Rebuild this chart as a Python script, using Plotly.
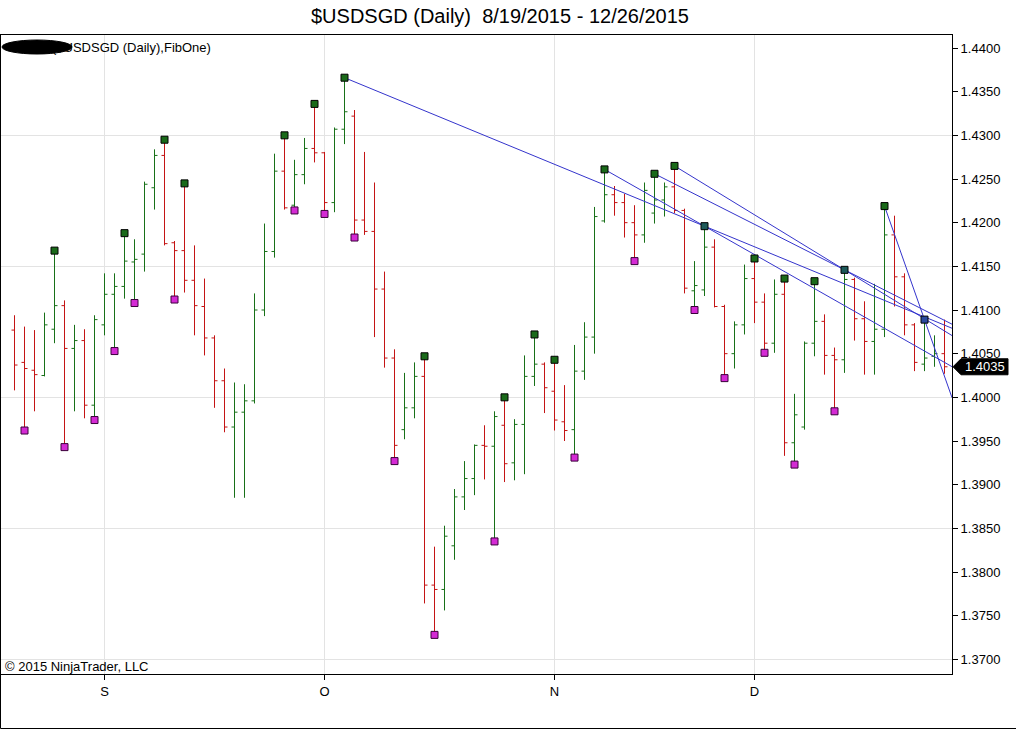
import plotly.graph_objects as go

# ---------------- data ----------------
title_text = "$USDSGD (Daily)\u00a0\u00a08/19/2015 - 12/26/2015"
header_text = "($USDSGD (Daily),FibOne)"
copyright_text = "\u00a9 2015 NinjaTrader, LLC"

month_ticks = [9, 31, 54, 74]
month_labels = ["S", "O", "N", "D"]

opens = [1.4077, 1.4040, 1.4031, 1.4025, 1.4078, 1.4105, 1.4056, 1.4065, 1.3991, 1.4083,
         1.4118, 1.4127, 1.4155, 1.4164, 1.4240, 1.4277, 1.4177, 1.4168, 1.4134, 1.4104,
         1.4068, 1.4019, 1.3966, 1.3983, 1.3996, 1.4100, 1.4167, 1.4259, 1.4220, 1.4255,
         1.4285, 1.4280, 1.4223, 1.4307, 1.4322, 1.4203, 1.4190, 1.4124, 1.4045, 1.3963,
         1.3988, 1.4024, 1.3785, 1.3780, 1.3830, 1.3886, 1.3907, 1.3945, 1.3944, 1.3968,
         1.3925, 1.3969, 1.4024, 1.4038, 1.4007, 1.3972, 1.3963, 1.4030, 1.4069, 1.4202,
         1.4232, 1.4223, 1.4200, 1.4186, 1.4211, 1.4226, 1.4241, 1.4214, 1.4122, 1.4123,
         1.4172, 1.4104, 1.4050, 1.4083, 1.4136, 1.4109, 1.4062, 1.4118, 1.3948, 1.3966,
         1.4062, 1.4087, 1.4048, 1.4043, 1.4135, 1.4090, 1.4064, 1.4078, 1.4186, 1.4138,
         1.4083, 1.4038, 1.4047, 1.4050]
highs = [1.4094, 1.4081, 1.4077, 1.4097, 1.4168, 1.4111, 1.4083, 1.4078, 1.4094, 1.4142,
         1.4142, 1.4188, 1.4181, 1.4247, 1.4284, 1.4295, 1.4179, 1.4245, 1.4174, 1.4136,
         1.4071, 1.4033, 1.4017, 1.4015, 1.4119, 1.4199, 1.4279, 1.4300, 1.4272, 1.4297,
         1.4336, 1.4281, 1.4309, 1.4366, 1.4329, 1.4281, 1.4246, 1.4144, 1.4055, 1.4028,
         1.4040, 1.4047, 1.3829, 1.3853, 1.3895, 1.3927, 1.3946, 1.3968, 1.3984, 1.4000,
         1.3975, 1.4048, 1.4072, 1.4040, 1.4043, 1.4014, 1.4060, 1.4086, 1.4218, 1.4261,
         1.4242, 1.4233, 1.4220, 1.4246, 1.4256, 1.4246, 1.4265, 1.4216, 1.4156, 1.4196,
         1.4181, 1.4106, 1.4087, 1.4152, 1.4159, 1.4119, 1.4135, 1.4136, 1.4004, 1.4064,
         1.4133, 1.4095, 1.4057, 1.4146, 1.4137, 1.4110, 1.4130, 1.4219, 1.4208, 1.4142,
         1.4085, 1.4089, 1.4071, 1.4089]
lows = [1.4008, 1.3962, 1.3984, 1.4024, 1.4062, 1.3943, 1.3984, 1.3976, 1.3974, 1.4071,
        1.4053, 1.4113, 1.4108, 1.4144, 1.4215, 1.4174, 1.4112, 1.4120, 1.4071, 1.4048,
        1.3988, 1.3960, 1.3885, 1.3885, 1.3993, 1.4093, 1.4160, 1.4215, 1.4214, 1.4244,
        1.4269, 1.4210, 1.4212, 1.4290, 1.4183, 1.4186, 1.4069, 1.4034, 1.3927, 1.3952,
        1.3976, 1.3764, 1.3728, 1.3756, 1.3814, 1.3871, 1.3888, 1.3906, 1.3835, 1.3903,
        1.3905, 1.3912, 1.4013, 1.3982, 1.3962, 1.3950, 1.3931, 1.4020, 1.4050, 1.4200,
        1.4208, 1.4183, 1.4156, 1.4177, 1.4199, 1.4207, 1.4211, 1.4119, 1.4100, 1.4116,
        1.4103, 1.4022, 1.4033, 1.4072, 1.4085, 1.4051, 1.4051, 1.3933, 1.3923, 1.3963,
        1.4047, 1.4026, 1.3984, 1.4028, 1.4065, 1.4026, 1.4026, 1.4069, 1.4104, 1.4071,
        1.4030, 1.4030, 1.4035, 1.4027]
closes = [1.4037, 1.4033, 1.4026, 1.4083, 1.4105, 1.4056, 1.4065, 1.3991, 1.4089, 1.4118,
          1.4127, 1.4156, 1.4158, 1.4244, 1.4277, 1.4176, 1.4168, 1.4134, 1.4105, 1.4068,
          1.4019, 1.3966, 1.3983, 1.3996, 1.4100, 1.4167, 1.4259, 1.4217, 1.4255, 1.4285,
          1.4280, 1.4223, 1.4307, 1.4327, 1.4203, 1.4190, 1.4124, 1.4045, 1.3945, 1.3988,
          1.4024, 1.3785, 1.3780, 1.3841, 1.3886, 1.3907, 1.3945, 1.3944, 1.3978, 1.3924,
          1.3969, 1.4024, 1.4038, 1.4011, 1.3974, 1.3962, 1.4030, 1.4069, 1.4207, 1.4232,
          1.4223, 1.4200, 1.4186, 1.4237, 1.4226, 1.4241, 1.4214, 1.4125, 1.4128, 1.4172,
          1.4104, 1.4050, 1.4083, 1.4136, 1.4109, 1.4062, 1.4118, 1.3948, 1.3980, 1.4062,
          1.4087, 1.4048, 1.4043, 1.4135, 1.4090, 1.4064, 1.4078, 1.4186, 1.4138, 1.4083,
          1.4040, 1.4045, 1.4050, 1.4035]

swing_high_bars = [4, 11, 15, 17, 27, 30, 33, 41, 49, 52, 54, 59, 64, 66, 69, 74, 77, 80, 83, 87, 91]
swing_low_bars = [1, 5, 8, 10, 12, 16, 28, 31, 34, 38, 42, 48, 56, 62, 68, 71, 75, 78, 82]

# trend lines: pairs of swing-high bars, extended to the right edge
trend_pairs = [(33, 69), (59, 69), (64, 83), (66, 83), (87, 91)]

# ---------------- layout constants ----------------
W, H = 1016, 730
ML, MR, MT, MB = 1, 64, 35, 56
x_range = [-1.35, 93.75]
y_range = [1.36832, 1.44149]

GREEN = "#187018"
RED = "#c41414"
BLUE = "#3434cc"
FONT = "Liberation Sans, Arial, sans-serif"
FS = 13

idx = list(range(len(opens)))

fig = go.Figure()

# helper so the overlay grid axis is drawn (invisible)
fig.add_trace(go.Scatter(x=[idx[0]], y=[closes[0]], yaxis="y2", mode="markers",
                         marker=dict(opacity=0), showlegend=False, hoverinfo="skip"))

fig.add_trace(go.Ohlc(
    x=idx, open=opens, high=highs, low=lows, close=closes,
    increasing=dict(line=dict(color=GREEN, width=1)),
    decreasing=dict(line=dict(color=RED, width=1)),
    tickwidth=0.3, showlegend=False, hoverinfo="skip",
))

# trend lines
for a, b in trend_pairs:
    slope = (highs[b] - highs[a]) / (b - a)
    xs = [a, x_range[1]]
    ys = [highs[a], highs[a] + slope * (x_range[1] - a)]
    fig.add_trace(go.Scatter(x=xs, y=ys, mode="lines",
                             line=dict(color=BLUE, width=1),
                             showlegend=False, hoverinfo="skip"))

# swing markers
hi_colors = []
for b in swing_high_bars:
    if b in (69, 83):
        hi_colors.append("#1d5a5a")
    elif b == 91:
        hi_colors.append("#2a4aa0")
    else:
        hi_colors.append("#1a6a1a")
fig.add_trace(go.Scatter(
    x=swing_high_bars, y=[highs[b] for b in swing_high_bars], mode="markers",
    marker=dict(symbol="square", size=7, color=hi_colors, line=dict(color="#000000", width=1)),
    showlegend=False, hoverinfo="skip", cliponaxis=False))
fig.add_trace(go.Scatter(
    x=swing_low_bars, y=[lows[b] for b in swing_low_bars], mode="markers",
    marker=dict(symbol="square", size=7, color="#d42ad4", line=dict(color="#3a003a", width=1)),
    showlegend=False, hoverinfo="skip", cliponaxis=False))

pw = W - ML - MR
ph = H - MT - MB


def px_x(p):
    return (p - ML) / pw


def px_y(p):
    return (H - MB - p) / ph


shapes = [
    # outer frame: left and bottom edges
    dict(type="line", xref="paper", yref="paper",
         x0=px_x(0.5), x1=px_x(0.5), y0=px_y(728.5), y1=px_y(34.5),
         line=dict(color="#000000", width=1), layer="above"),
    dict(type="line", xref="paper", yref="paper",
         x0=px_x(0.5), x1=px_x(1016), y0=px_y(728.5), y1=px_y(728.5),
         line=dict(color="#000000", width=1), layer="above"),
    # redaction blob in the header
    dict(type="circle", xref="paper", yref="paper",
         x0=px_x(2), x1=px_x(72), y0=px_y(54), y1=px_y(40),
         line=dict(color="#000000", width=1), fillcolor="#000000", layer="above"),
]

# last price arrow label
last = closes[-1]
half = 8 / (ph / (y_range[1] - y_range[0]))
shapes.append(dict(type="path", xref="paper", yref="y",
                   path=f"M {px_x(953)},{last} L {px_x(961)},{last + half} L {px_x(1008)},{last + half} "
                        f"L {px_x(1008)},{last - half} L {px_x(961)},{last - half} Z",
                   fillcolor="#000000", line=dict(color="#000000", width=1), layer="above"))

annotations = [
    dict(text=header_text, xref="paper", yref="paper", x=px_x(50), y=px_y(47),
         xanchor="left", yanchor="middle", showarrow=False,
         font=dict(family=FONT, size=FS, color="#000000")),
    dict(text=copyright_text, xref="paper", yref="paper", x=px_x(3), y=px_y(666),
         xanchor="left", yanchor="middle", showarrow=False,
         font=dict(family=FONT, size=FS, color="#000000")),
    dict(text=f"{last:.4f}", xref="paper", yref="y", x=px_x(985), y=last,
         xanchor="center", yanchor="middle", showarrow=False,
         font=dict(family=FONT, size=FS, color="#ffffff")),
]

fig.update_layout(
    width=W, height=H,
    margin=dict(l=ML, r=MR, t=MT, b=MB, pad=0),
    paper_bgcolor="#ffffff", plot_bgcolor="#ffffff",
    title=dict(text=title_text, x=500 / W, xref="container", xanchor="center",
               y=1 - 16 / H, yref="container", yanchor="middle",
               font=dict(family=FONT, size=20, color="#000000")),
    font=dict(family=FONT, size=FS, color="#000000"),
    showlegend=False,
    shapes=shapes,
    annotations=annotations,
    xaxis=dict(range=x_range, tickvals=month_ticks, ticktext=month_labels,
               ticks="outside", ticklen=5, tickcolor="#000000",
               showgrid=True, gridcolor="#e3e3e3", gridwidth=1,
               showline=True, linecolor="#000000", linewidth=1, mirror=True,
               zeroline=False, rangeslider=dict(visible=False), fixedrange=True,
               tickfont=dict(family=FONT, size=FS, color="#000000")),
    yaxis=dict(range=y_range, side="right", tick0=1.37, dtick=0.005, tickformat=".4f",
               ticks="outside", ticklen=5, tickcolor="#000000",
               showgrid=False, showline=True, linecolor="#000000", linewidth=1, mirror=True,
               zeroline=False, fixedrange=True,
               tickfont=dict(family=FONT, size=FS, color="#000000")),
    yaxis2=dict(range=y_range, overlaying="y", side="right", tick0=1.37, dtick=0.015,
                showticklabels=False, ticks="", showgrid=True, gridcolor="#e3e3e3",
                showline=False, zeroline=False, fixedrange=True),
)

fig.write_html("out.html", config={"displayModeBar": False},
               post_script="document.body.style.margin='0';document.body.style.overflow='hidden';")
